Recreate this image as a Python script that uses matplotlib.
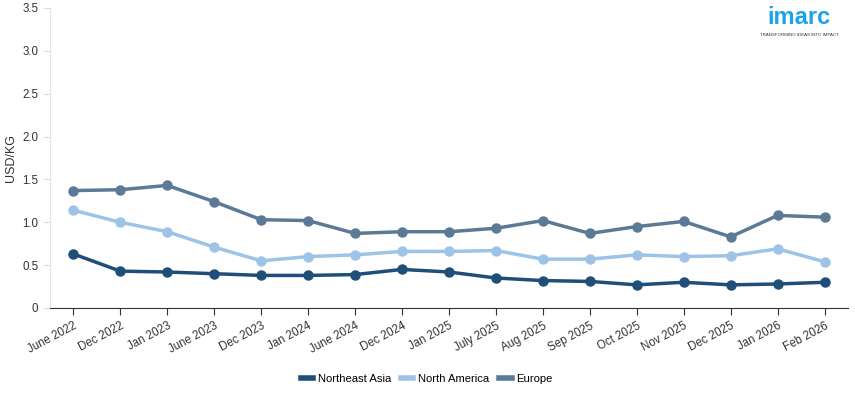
import matplotlib.pyplot as plt

months = ["June 2022", "Dec 2022", "Jan 2023", "June 2023", "Dec 2023", "Jan 2024",
          "June 2024", "Dec 2024", "Jan 2025", "July 2025", "Aug 2025", "Sep 2025",
          "Oct 2025", "Nov 2025", "Dec 2025", "Jan 2026", "Feb 2026"]
northeast_asia = [0.63, 0.43, 0.42, 0.40, 0.38, 0.38, 0.39, 0.45, 0.42, 0.35, 0.32, 0.31,
                  0.27, 0.30, 0.27, 0.28, 0.30]
north_america = [1.14, 1.00, 0.89, 0.71, 0.55, 0.60, 0.62, 0.66, 0.66, 0.67, 0.57, 0.57,
                 0.62, 0.60, 0.61, 0.69, 0.54]
europe = [1.37, 1.38, 1.43, 1.24, 1.03, 1.02, 0.87, 0.89, 0.89, 0.93, 1.02, 0.87,
          0.95, 1.01, 0.83, 1.08, 1.06]

plt.rcParams['font.family'] = ['Liberation Sans', 'DejaVu Sans']

fig = plt.figure(figsize=(8.55, 3.93), dpi=100)
ax = fig.add_axes([50 / 855, 1 - 308 / 393, 798 / 855, 300 / 393])

x = range(len(months))
ax.plot(x, northeast_asia, color="#1f4e79", lw=2.5, marker="o", ms=6.5, label="Northeast Asia")
ax.plot(x, north_america, color="#9dc3e6", lw=2.5, marker="o", ms=6.5, label="North America")
ax.plot(x, europe, color="#5b7a96", lw=2.5, marker="o", ms=6.5, label="Europe")

ax.set_ylim(0, 3.5)
ax.set_yticks([0, 0.5, 1.0, 1.5, 2.0, 2.5, 3.0, 3.5])
ax.set_yticklabels(["0", "0.5", "1.0", "1.5", "2.0", "2.5", "3.0", "3.5"])
ax.set_xlim(-0.5, len(months) - 0.5)
ax.set_xticks(list(x))
ax.set_xticklabels(months, rotation=28, ha="right", rotation_mode="anchor")
ax.tick_params(axis="x", labelsize=8.3, colors="#333333", length=5, color="#333333")
ax.tick_params(axis="y", labelsize=8.3, colors="#333333", length=5, color="#dddddd")
ax.set_ylabel("USD/KG", fontsize=9, color="#333333")

for s in ["top", "right"]:
    ax.spines[s].set_visible(False)
ax.spines["left"].set_color("#e6e6e6")
ax.spines["bottom"].set_color("#333333")

leg = ax.legend(loc="upper center", bbox_to_anchor=(0.472, -0.185), ncol=3, frameon=False,
                fontsize=8.1, handlelength=1.1, handletextpad=0.4, markerscale=0,
                columnspacing=0.9)
for h in leg.get_lines():
    h.set_linewidth(4)

fig.text(0.935, 0.955, "imarc", color="#1aa3e8", fontsize=17, ha="center", va="center",
         fontweight="bold")
fig.text(0.935, 0.912, "TRANSFORMING IDEAS INTO IMPACT", color="#333333", fontsize=3.2,
         ha="center", va="center")

plt.savefig("out.png")
